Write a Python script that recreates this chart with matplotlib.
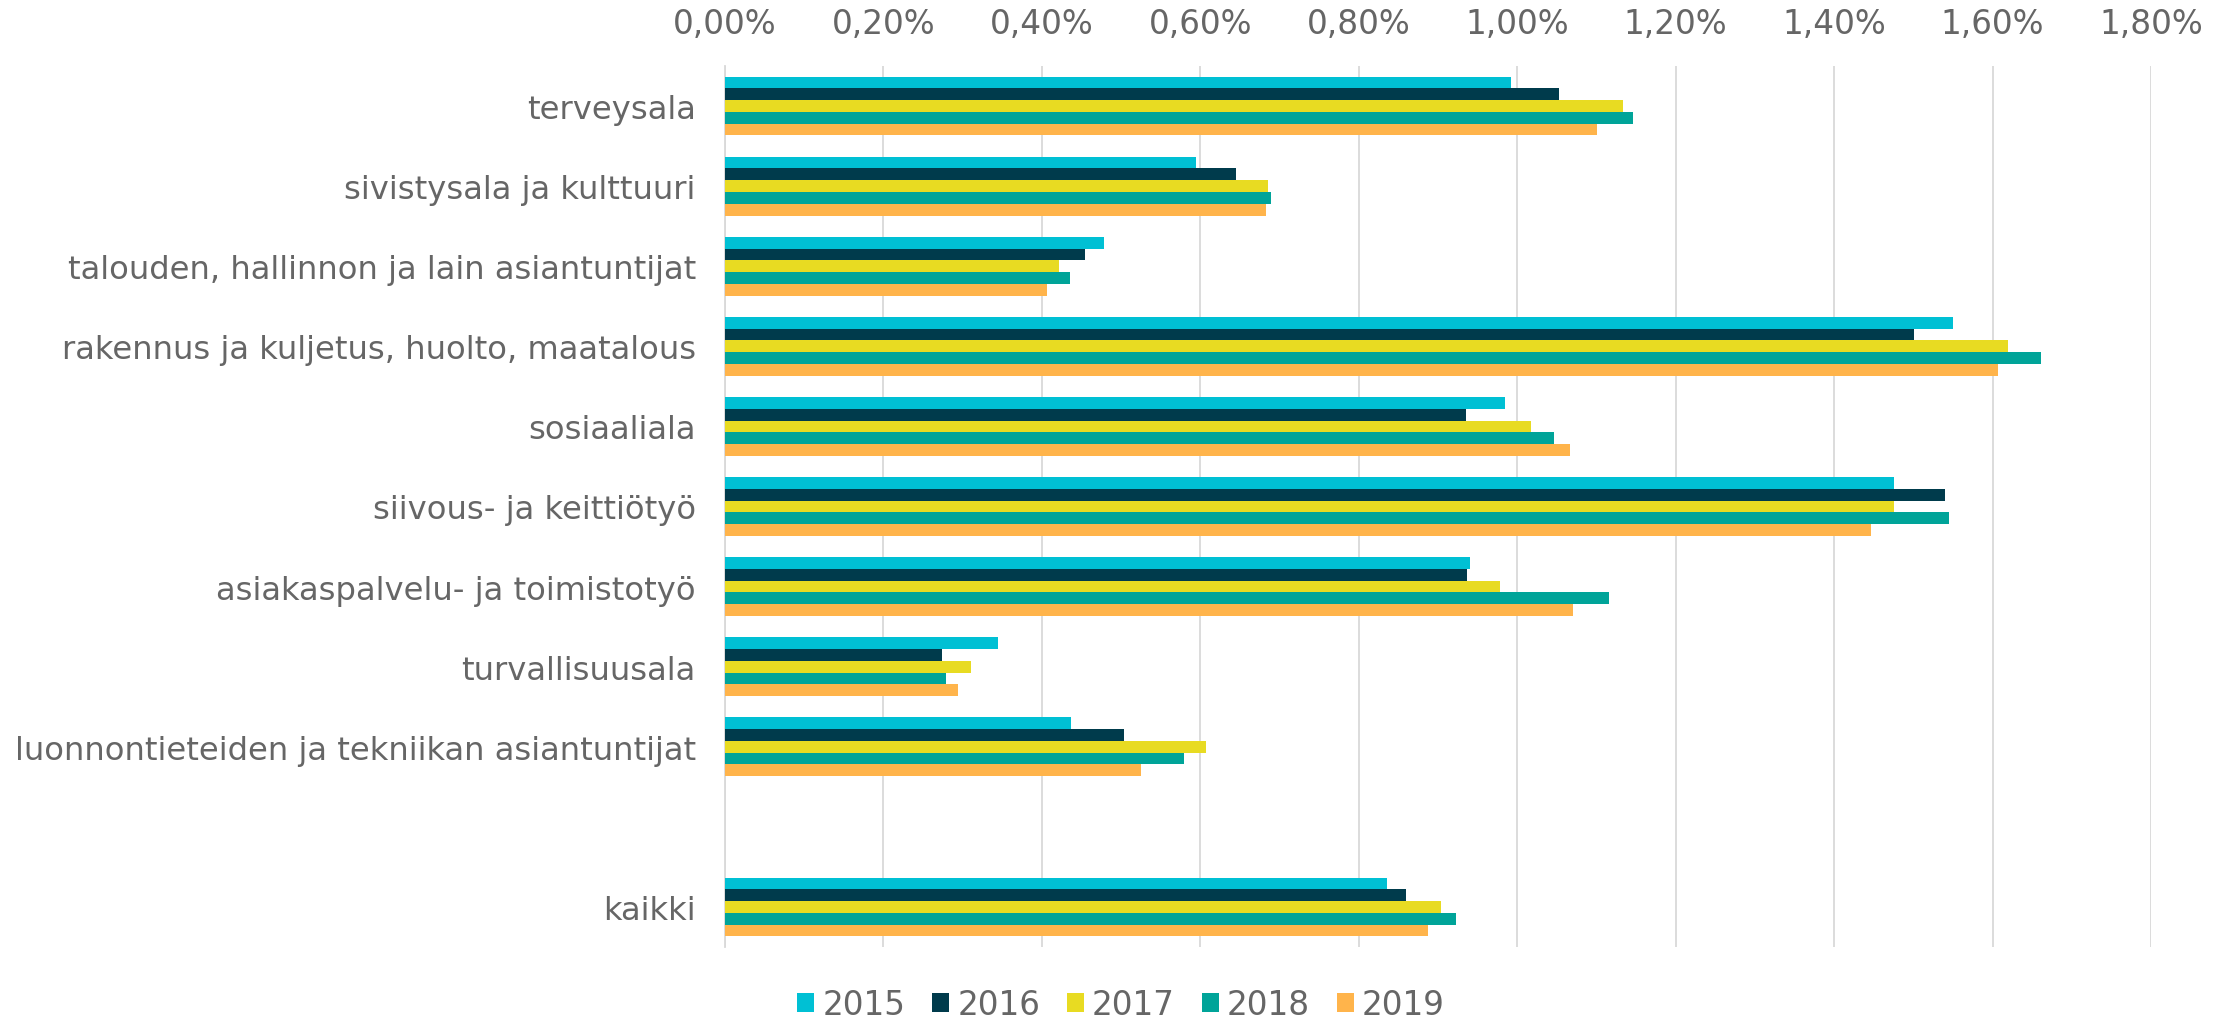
"""Horizontal grouped bar chart: share by occupational field, 2015-2019."""

import matplotlib
matplotlib.use("Agg")
import matplotlib.pyplot as plt
import numpy as np

# --- Data (percent) ---------------------------------------------------------
CATEGORIES = [
    "terveysala",
    "sivistysala ja kulttuuri",
    "talouden, hallinnon ja lain asiantuntijat",
    "rakennus ja kuljetus, huolto, maatalous",
    "sosiaaliala",
    "siivous- ja keittiötyö",
    "asiakaspalvelu- ja toimistotyö",
    "turvallisuusala",
    "luonnontieteiden ja tekniikan asiantuntijat",
    "",
    "kaikki",
]
YEARS = ["2015", "2016", "2017", "2018", "2019"]

V2015 = [0.992, 0.595, 0.478, 1.550, 0.984, 1.475, 0.940, 0.344, 0.437, np.nan, 0.835]
V2016 = [1.053, 0.645, 0.454, 1.501, 0.935, 1.540, 0.937, 0.274, 0.504, np.nan, 0.860]
V2017 = [1.133, 0.685, 0.421, 1.619, 1.018, 1.476, 0.978, 0.311, 0.607, np.nan, 0.904]
V2018 = [1.146, 0.689, 0.435, 1.661, 1.047, 1.545, 1.116, 0.279, 0.579, np.nan, 0.923]
V2019 = [1.101, 0.683, 0.407, 1.607, 1.066, 1.446, 1.071, 0.294, 0.525, np.nan, 0.887]

X_TICKS = [0.0, 0.2, 0.4, 0.6, 0.8, 1.0, 1.2, 1.4, 1.6, 1.8]

# --- Style ------------------------------------------------------------------
COLORS = ["#00C0D4", "#003B4C", "#E8DB22", "#00A499", "#FFB44B"]
TEXT_GREY = "#666666"
GRID_GREY = "#D9D9D9"

plt.rcParams["font.family"] = ["DejaVu Sans"]

fig = plt.figure(figsize=(22.28, 10.2), dpi=100)
ax = fig.add_axes([725 / 2228, 1 - 948 / 1020, 1426 / 2228, (948 - 67) / 1020])

series = [V2015, V2016, V2017, V2018, V2019]
y = np.arange(len(CATEGORIES))
bar_h = 0.147
for j, (vals, year, color) in enumerate(zip(series, YEARS, COLORS)):
    ax.barh(y + (j - 2) * bar_h, vals, height=bar_h, color=color,
            label=year, zorder=3)

ax.set_xlim(0, 1.8)
ax.set_ylim(len(CATEGORIES) - 0.5, -0.5)
ax.set_xticks(X_TICKS)
ax.set_xticklabels([f"{v:.2f}".replace(".", ",") + "%" for v in X_TICKS])
ax.xaxis.tick_top()
ax.set_yticks(y)
ax.set_yticklabels(CATEGORIES)

ax.tick_params(axis="x", length=0, pad=19, labelsize=23.5,
               labelcolor=TEXT_GREY)
ax.tick_params(axis="y", length=0, pad=21, labelsize=23.2,
               labelcolor=TEXT_GREY)
ax.grid(axis="x", color=GRID_GREY, linewidth=1.3, zorder=0)

for side in ["top", "right", "bottom"]:
    ax.spines[side].set_visible(False)
ax.spines["left"].set_color(GRID_GREY)
ax.spines["left"].set_linewidth(1.3)

fig.legend(loc="center", bbox_to_anchor=(1121 / 2228, 1 - 1006 / 1020),
           ncol=5, frameon=False, fontsize=23.5, labelcolor=TEXT_GREY,
           handlelength=0.52, handleheight=0.52, handletextpad=0.25,
           columnspacing=0.82, borderpad=0)

fig.savefig("out.png", dpi=100)
plt.close(fig)
